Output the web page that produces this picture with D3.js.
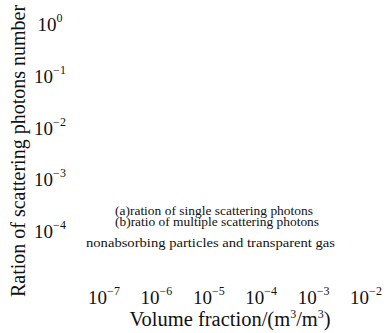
<!DOCTYPE html>
<html>
<head>
<meta charset="utf-8">
<script src="https://cdn.jsdelivr.net/npm/d3@7/dist/d3.min.js"></script>
<style>
  html, body { margin: 0; padding: 0; background: #fff; }
  svg { display: block; font-family: "Liberation Serif", "Times New Roman", serif; }
</style>
</head>
<body>
<svg id="chart" width="387" height="333"></svg>
<script>
// Axis tick exponents (log10 values)
const xExponents = [-7, -6, -5, -4, -3, -2];
const yExponents = [0, -1, -2, -3, -4];

// Legend and annotation lines
const legendLines = [
  "(a)ration of single scattering photons",
  "(b)ratio of multiple scattering photons"
];
const noteText = "nonabsorbing particles and transparent gas";

const xTitle = "Volume fraction/(m";
const yTitle = "Ration of scattering photons number";

const svg = d3.select("#chart");

const x = d3.scaleLog().domain([1e-7, 1e-2]).range([104, 366]);
const y = d3.scaleLog().domain([1e-4, 1]).range([231, 24]);

// Power-of-ten tick label: "10" with a raised exponent
function powerLabel(sel, e) {
  sel.append("tspan").text("10");
  sel.append("tspan")
    .attr("dy", -9)
    .attr("font-size", 12)
    .text(e < 0 ? "\u2212" + Math.abs(e) : String(e));
}

// X tick labels
svg.append("g").selectAll("text")
  .data(xExponents)
  .join("text")
  .attr("x", d => x(Math.pow(10, d)))
  .attr("y", 304)
  .attr("text-anchor", "middle")
  .attr("font-size", 19)
  .attr("fill", "#111")
  .each(function (d) { powerLabel(d3.select(this), d); });

// Y tick labels
svg.append("g").selectAll("text")
  .data(yExponents)
  .join("text")
  .attr("x", 50)
  .attr("y", d => y(Math.pow(10, d)) + 7)
  .attr("text-anchor", "middle")
  .attr("font-size", 19)
  .attr("fill", "#111")
  .each(function (d) { powerLabel(d3.select(this), d); });

// X axis title with superscripts
const xt = svg.append("text")
  .attr("x", 230)
  .attr("y", 326)
  .attr("text-anchor", "middle")
  .attr("font-size", 20.5)
  .attr("fill", "#111");
xt.append("tspan").text(xTitle);
xt.append("tspan").attr("dy", -8).attr("font-size", 12).text("3");
xt.append("tspan").attr("dy", 8).text("/m");
xt.append("tspan").attr("dy", -8).attr("font-size", 12).text("3");
xt.append("tspan").attr("dy", 8).text(")");

// Y axis title
svg.append("text")
  .attr("transform", "translate(25,151) rotate(-90)")
  .attr("text-anchor", "middle")
  .attr("font-size", 20)
  .attr("fill", "#111")
  .text(yTitle);

// Legend entries, stretched to their full line widths
const legendWidths = [198, 204];
svg.append("g").selectAll("text")
  .data(legendLines)
  .join("text")
  .attr("x", (d, i) => 115 + legendWidths[i] / 2)
  .attr("y", (d, i) => 214.5 + i * 11)
  .attr("text-anchor", "middle")
  .attr("font-size", 11.5)
  .attr("textLength", (d, i) => legendWidths[i])
  .attr("lengthAdjust", "spacingAndGlyphs")
  .attr("fill", "#111")
  .text(d => d);

// Annotation
svg.append("text")
  .attr("x", 210.5)
  .attr("y", 247)
  .attr("text-anchor", "middle")
  .attr("font-size", 13)
  .attr("textLength", 249)
  .attr("lengthAdjust", "spacingAndGlyphs")
  .attr("fill", "#111")
  .text(noteText);
</script>
</body>
</html>
